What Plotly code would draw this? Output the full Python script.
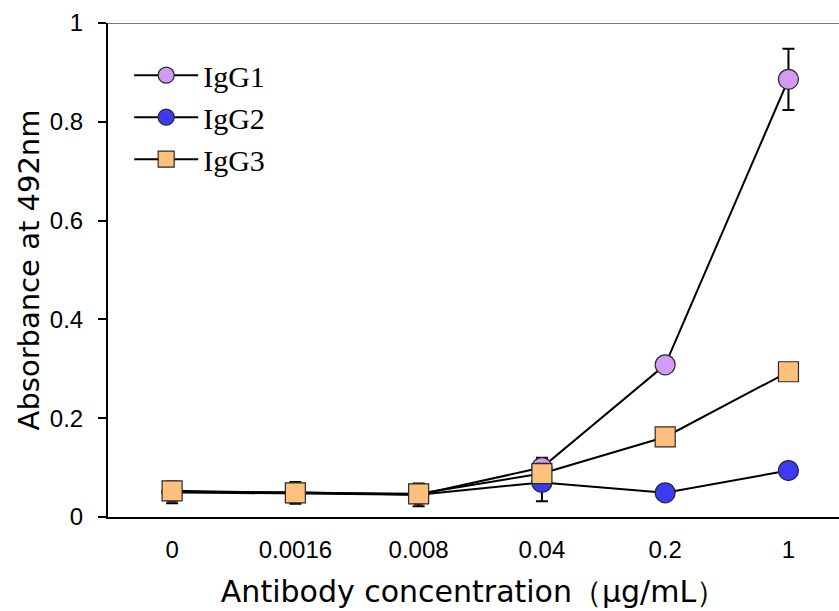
import plotly.graph_objects as go

# Antibody concentrations (µg/mL) shown as evenly spaced categories
concentrations = ["0", "0.0016", "0.008", "0.04", "0.2", "1"]

# Absorbance at 492 nm for each IgG subclass
igg1 = [0.050, 0.050, 0.045, 0.100, 0.308, 0.886]
igg2 = [0.050, 0.048, 0.045, 0.070, 0.049, 0.094]
igg3 = [0.053, 0.049, 0.047, 0.088, 0.162, 0.294]

# Standard deviations
igg1_err = [0.004, 0.004, 0.004, 0.020, 0.004, 0.062]
igg2_err = [0.022, 0.004, 0.023, 0.038, 0.003, 0.004]
igg3_err = [0.004, 0.022, 0.018, 0.004, 0.004, 0.004]

series = [
    ("IgG1", igg1, igg1_err, "circle", "#D29CF4"),
    ("IgG2", igg2, igg2_err, "circle", "#3B3BF5"),
    ("IgG3", igg3, igg3_err, "square", "#FFC07E"),
]

fig = go.Figure()
for name, vals, errs, symbol, color in series:
    fig.add_trace(go.Scatter(
        x=concentrations, y=vals, name=name,
        mode="lines+markers",
        line=dict(color="black", width=2),
        marker=dict(symbol=symbol, size=20, color=color,
                    line=dict(color="#2a2a2a", width=1.2)),
        error_y=dict(type="data", array=errs, visible=True,
                     color="black", thickness=2, width=6),
    ))

fig.add_shape(type="line", xref="paper", yref="y", x0=0, x1=1, y0=1, y1=1,
              line=dict(color="#777777", width=2))

fig.update_layout(
    width=839, height=611,
    margin=dict(l=108, r=0, t=23, b=94),
    paper_bgcolor="white", plot_bgcolor="white",
    font=dict(family="Liberation Sans, Arial, sans-serif", color="black"),
    showlegend=True,
    legend=dict(x=0.029, y=0.947, xanchor="left", yanchor="top",
                bgcolor="rgba(0,0,0,0)", tracegroupgap=0, itemwidth=64,
                font=dict(family="Liberation Serif, DejaVu Serif, serif",
                          size=30, color="black")),
    xaxis=dict(
        type="category", range=[-0.52, 5.41],
        showline=True, linecolor="black", linewidth=2,
        ticks="", showgrid=False, zeroline=False,
        tickfont=dict(size=24), ticklabelstandoff=10,
        title=dict(text="Antibody concentration（μg/mL）",
                   font=dict(family="DejaVu Sans, sans-serif", size=30),
                   standoff=19),
    ),
    yaxis=dict(
        range=[0, 1], tickvals=[0, 0.2, 0.4, 0.6, 0.8, 1],
        ticktext=["0", "0.2", "0.4", "0.6", "0.8", "1"],
        showline=True, linecolor="black", linewidth=2,
        ticks="outside", ticklen=8, tickwidth=2, tickcolor="black",
        showgrid=False, zeroline=False,
        tickfont=dict(size=24), ticklabelstandoff=10,
        title=dict(text="Absorbance at 492nm",
                   font=dict(family="DejaVu Sans, sans-serif", size=29),
                   standoff=2),
    ),
)

fig.write_html("out.html")
